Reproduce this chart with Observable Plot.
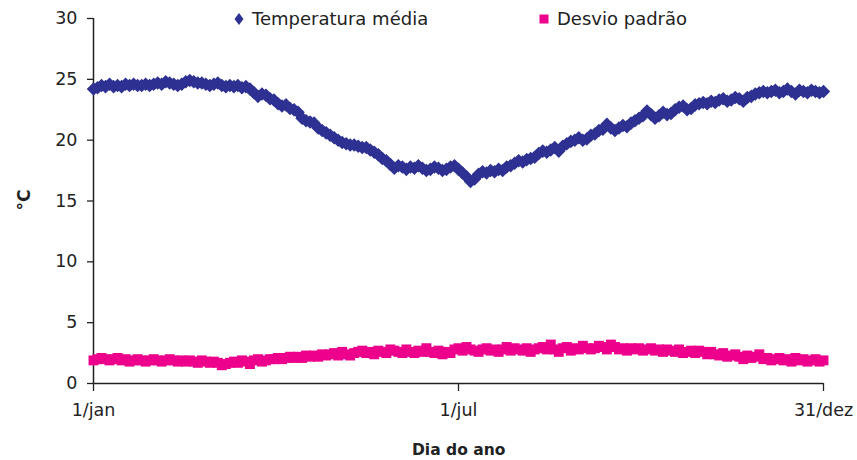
<!DOCTYPE html>
<html><head><meta charset="utf-8">
<script src="https://cdn.jsdelivr.net/npm/d3@7"></script>
<script src="https://cdn.jsdelivr.net/npm/@observablehq/plot@0.6"></script>
<style>
body{margin:0;background:#fff;}
#wrap{position:relative;width:857px;height:460px;font-family:"DejaVu Sans",Verdana,sans-serif;color:#222;}
.leg{position:absolute;top:8px;font-size:18px;line-height:22px;display:flex;align-items:center;white-space:nowrap;}
.leg svg{margin-right:8px;}
.ttl{position:absolute;font-weight:bold;font-size:15.5px;white-space:nowrap;}
</style></head><body><div id="wrap"></div>
<script>
// Day step between readings (day 1, 3, 5, ... 365)
const dayStep = 2;
const temperatura = [
  24.2,24.3,24.5,24.4,24.6, 24.4,24.5,24.4,24.6,24.5, 24.6,24.5,24.5,24.6,24.5,
  24.6,24.7,24.6,24.8,24.7, 24.6,24.5,24.6,24.8,24.9, 24.8,24.7,24.7,24.6,24.5,
  24.6,24.7,24.5,24.4,24.5, 24.4,24.5,24.3,24.4,24.2, 23.9,23.6,23.8,23.7,23.4,
  23.3,23.0,22.8,22.9,22.6, 22.5,22.3,21.8,21.6,21.5, 21.4,21.0,20.8,20.6,20.4,
  20.2,20.0,19.8,19.7,19.6, 19.6,19.5,19.4,19.4,19.2, 19.0,18.8,18.5,18.3,18.0,
  17.7,17.9,17.8,17.6,17.8, 17.7,17.9,17.7,17.5,17.6, 17.8,17.7,17.5,17.6,17.8,
  17.9,17.6,17.3,17.0,16.6, 16.8,17.2,17.4,17.3,17.5, 17.4,17.6,17.5,17.8,17.9,
  18.1,18.3,18.2,18.4,18.5, 18.6,18.9,19.1,19.0,19.2, 19.4,19.1,19.5,19.7,19.9,
  20.0,20.2,20.0,20.1,20.4, 20.5,20.8,20.9,21.3,21.0, 20.8,21.0,21.2,21.1,21.4,
  21.6,21.8,22.0,22.4,22.1, 21.8,22.0,22.3,22.1,22.2, 22.5,22.7,22.8,22.5,22.6,
  22.9,23.0,23.1,23.0,23.2, 23.1,23.3,23.4,23.2,23.3, 23.5,23.4,23.2,23.5,23.6,
  23.8,23.9,24.0,23.9,24.0, 24.1,23.9,24.0,24.2,24.0, 23.8,24.1,24.0,23.9,24.1,
  24.0,23.9,24.0
];
const desvio = [
  1.9,2.0,2.1,2.0,1.9, 2.0,2.1,1.9,2.0,1.8, 1.9,2.0,1.9,1.8,1.9,
  2.0,1.9,1.8,1.9,2.0, 1.9,1.8,1.9,1.8,1.9, 1.8,1.7,1.9,1.8,1.7,
  1.8,1.7,1.5,1.6,1.7, 1.8,1.7,1.9,1.8,1.6, 1.9,2.0,1.8,1.9,2.0,
  2.0,2.1,2.0,2.1,2.2, 2.1,2.2,2.1,2.3,2.2, 2.3,2.2,2.4,2.3,2.4,
  2.5,2.3,2.6,2.4,2.3, 2.5,2.6,2.7,2.5,2.6, 2.4,2.7,2.6,2.5,2.8,
  2.7,2.6,2.5,2.8,2.6, 2.5,2.7,2.6,2.9,2.6, 2.5,2.7,2.4,2.6,2.5,
  2.8,2.9,2.7,3.0,2.8, 2.7,2.6,2.8,2.9,2.7, 2.8,2.6,2.8,3.0,2.7,
  2.9,2.8,2.7,2.9,2.6, 2.8,2.9,3.0,2.8,3.2, 2.8,2.6,2.9,3.0,2.7,
  2.9,2.8,3.1,2.9,2.8, 2.9,3.1,3.0,2.8,3.2, 3.0,2.8,2.9,2.7,2.9,
  2.8,2.9,2.7,2.8,2.9, 2.7,2.8,2.6,2.8,2.7, 2.6,2.8,2.5,2.6,2.7,
  2.5,2.7,2.6,2.4,2.6, 2.4,2.3,2.5,2.2,2.3, 2.4,2.2,2.0,2.3,2.1,
  2.2,2.4,2.0,2.1,1.9, 2.0,2.1,1.9,2.0,1.8, 2.1,1.9,2.0,1.8,1.9,
  2.0,1.8,1.9
];
const xTickDays = [1, 183, 365];
const xTickLabels = ["1/jan", "1/jul", "31/dez"];
const yTicks = [0, 5, 10, 15, 20, 25, 30];
const seriesNames = ["Temperatura média", "Desvio padrão"];
const colors = ["#2e3192", "#ec008c"];

const tempData = temperatura.map((v, i) => ({day: 1 + i * dayStep, v}));
const sdData = desvio.map((v, i) => ({day: 1 + i * dayStep, v}));

const chart = Plot.plot({
  width: 857, height: 460,
  marginLeft: 93, marginRight: 34, marginTop: 18, marginBottom: 77,
  style: {fontFamily: "'DejaVu Sans', Verdana, sans-serif", fontSize: "17.5px", color: "#222", background: "#fff", overflow: "visible"},
  x: {domain: [1, 365]},
  y: {domain: [0, 30]},
  marks: [
    Plot.ruleX([1], {stroke: "#222", strokeWidth: 1.5}),
    Plot.ruleY([0], {stroke: "#222", strokeWidth: 1.5}),
    Plot.axisY({ticks: yTicks, tickSize: 6, tickPadding: 10, label: null, stroke: "#222", strokeWidth: 1.3}),
    Plot.axisX({ticks: xTickDays, tickFormat: (d) => xTickLabels[xTickDays.indexOf(d)], tickSize: 8, tickPadding: 12, label: null, stroke: "#222", strokeWidth: 1.3}),
    Plot.dot(sdData, {x: "day", y: "v", symbol: "square", r: 5.6, fill: colors[1]}),
    Plot.dot(tempData, {x: "day", y: "v", symbol: "diamond2", r: 6.1, fill: colors[0]})
  ]
});
const wrap = document.getElementById("wrap");
wrap.appendChild(chart);

function legendItem(left, name, color, shape) {
  const d = document.createElement("div");
  d.className = "leg";
  d.style.left = left + "px";
  const sym = shape === "diamond"
    ? `<svg width="10" height="14"><polygon points="5,1 9.5,7 5,13 0.5,7" fill="${color}"/></svg>`
    : `<svg width="10" height="14"><rect x="0.5" y="2.5" width="9" height="9" fill="${color}"/></svg>`;
  d.innerHTML = sym + `<span>${name}</span>`;
  wrap.appendChild(d);
}
legendItem(234, seriesNames[0], colors[0], "diamond");
legendItem(539, seriesNames[1], colors[1], "square");

const yt = document.createElement("div");
yt.className = "ttl";
yt.textContent = "°C";
yt.style.left = "14px"; yt.style.top = "190px";
yt.style.fontSize = "17px";
yt.style.transform = "rotate(-90deg)";
wrap.appendChild(yt);

const xt = document.createElement("div");
xt.className = "ttl";
xt.textContent = "Dia do ano";
xt.style.left = "412px"; xt.style.top = "441px";
wrap.appendChild(xt);
</script>
</body></html>
